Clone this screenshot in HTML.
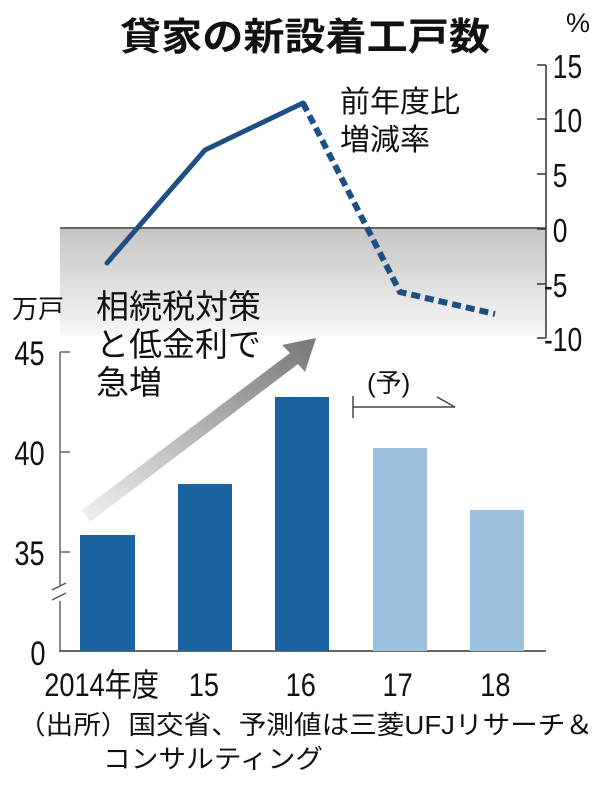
<!DOCTYPE html>
<html><head><meta charset="utf-8"><style>
body{margin:0;background:#fff;}
svg text{font-family:"Liberation Sans","Noto Sans CJK JP",sans-serif;fill:#111;}
</style></head><body>
<svg width="609" height="787" viewBox="0 0 609 787" xmlns="http://www.w3.org/2000/svg">
<defs>
<linearGradient id="g" x1="0" y1="0" x2="0" y2="1">
<stop offset="0" stop-color="#c4c4c4"/><stop offset="1" stop-color="#f8f8f8"/></linearGradient>
<linearGradient id="ag" x1="0" y1="1" x2="1" y2="0">
<stop offset="0" stop-color="#f2f2f2"/><stop offset="1" stop-color="#777"/></linearGradient>
</defs>
<text x="305" y="50" font-size="38" font-weight="bold" text-anchor="middle" textLength="370" lengthAdjust="spacingAndGlyphs">貸家の新設着工戸数</text>
<text x="566" y="32" font-size="27">%</text>
<!-- shaded negative region -->
<rect x="60" y="228" width="486" height="108" fill="url(#g)"/>
<line x1="60" y1="228" x2="546" y2="228" stroke="#666" stroke-width="2"/>
<!-- right axis -->
<line x1="546" y1="65" x2="546" y2="338" stroke="#333" stroke-width="1.5"/>
<g stroke="#333" stroke-width="1.5">
<line x1="537" y1="65" x2="546" y2="65"/><line x1="537" y1="119" x2="546" y2="119"/>
<line x1="537" y1="174" x2="546" y2="174"/><line x1="537" y1="229" x2="546" y2="229"/>
<line x1="537" y1="284" x2="546" y2="284"/><line x1="537" y1="338" x2="546" y2="338"/></g>
<g font-size="33" transform="scale(0.8,1)">
<text x="691" y="78">15</text><text x="691" y="132">10</text><text x="691" y="187">5</text>
<text x="691" y="242">0</text><text x="680" y="297">-5</text><text x="680" y="351">-10</text></g>
<text x="340" y="112" font-size="30">前年度比</text>
<text x="340" y="150" font-size="30">増減率</text>
<!-- line -->
<polyline points="107,263 205,150 303,103" fill="none" stroke="#1e4f82" stroke-width="5" stroke-linecap="round"/>
<polyline points="303,103 400,292 495,314" fill="none" stroke="#1e4f82" stroke-width="6" stroke-dasharray="9,5"/>
<!-- arrow -->
<polygon points="82,510 290,353 282,345 316,338 305,372 298,364 90,522" fill="url(#ag)"/>
<!-- annotation -->
<text x="12" y="318" font-size="26">万戸</text>
<text x="96" y="318" font-size="33">相続税対策</text>
<text x="96" y="356" font-size="33">と低金利で</text>
<text x="96" y="394" font-size="33">急増</text>
<text x="367" y="392" font-size="26">(予)</text>
<line x1="353" y1="407" x2="455" y2="407" stroke="#444" stroke-width="1.5"/>
<line x1="353" y1="396" x2="353" y2="418" stroke="#444" stroke-width="1.5"/>
<line x1="437" y1="397" x2="455" y2="407" stroke="#444" stroke-width="1.5"/>
<!-- bar axis -->
<line x1="60" y1="352" x2="60" y2="651" stroke="#666" stroke-width="1.5"/>
<line x1="59" y1="651" x2="546" y2="651" stroke="#666" stroke-width="2"/>
<g stroke="#666" stroke-width="1.5"><line x1="60" y1="352" x2="70" y2="352"/><line x1="60" y1="452" x2="70" y2="452"/><line x1="60" y1="552" x2="70" y2="552"/></g>
<rect x="53" y="585" width="14" height="16" fill="#fff"/>
<line x1="52" y1="590" x2="66" y2="583" stroke="#555" stroke-width="1.5"/>
<line x1="52" y1="600" x2="66" y2="593" stroke="#555" stroke-width="1.5"/>
<g font-size="34" transform="scale(0.8,1)">
<text x="18" y="365">45</text><text x="18" y="465">40</text><text x="18" y="565">35</text><text x="38" y="665">0</text></g>
<rect x="80" y="535" width="55" height="116" fill="#1b63a0"/>
<rect x="178" y="484" width="54" height="167" fill="#1b63a0"/>
<rect x="275" y="397" width="54" height="254" fill="#1b63a0"/>
<rect x="373" y="448" width="54" height="203" fill="#9cc2de"/>
<rect x="470" y="510" width="54" height="141" fill="#9cc2de"/>
<g font-size="32" transform="scale(0.85,1)">
<text x="52" y="696">2014年度</text><text x="222" y="696">15</text><text x="336" y="696">16</text><text x="450" y="696">17</text><text x="565" y="696">18</text></g>
<text x="18" y="734" font-size="26" textLength="575" lengthAdjust="spacingAndGlyphs">（出所）国交省、予測値は三菱UFJリサーチ＆</text>
<text x="103" y="768" font-size="26" textLength="220" lengthAdjust="spacingAndGlyphs">コンサルティング</text>
</svg>
</body></html>
